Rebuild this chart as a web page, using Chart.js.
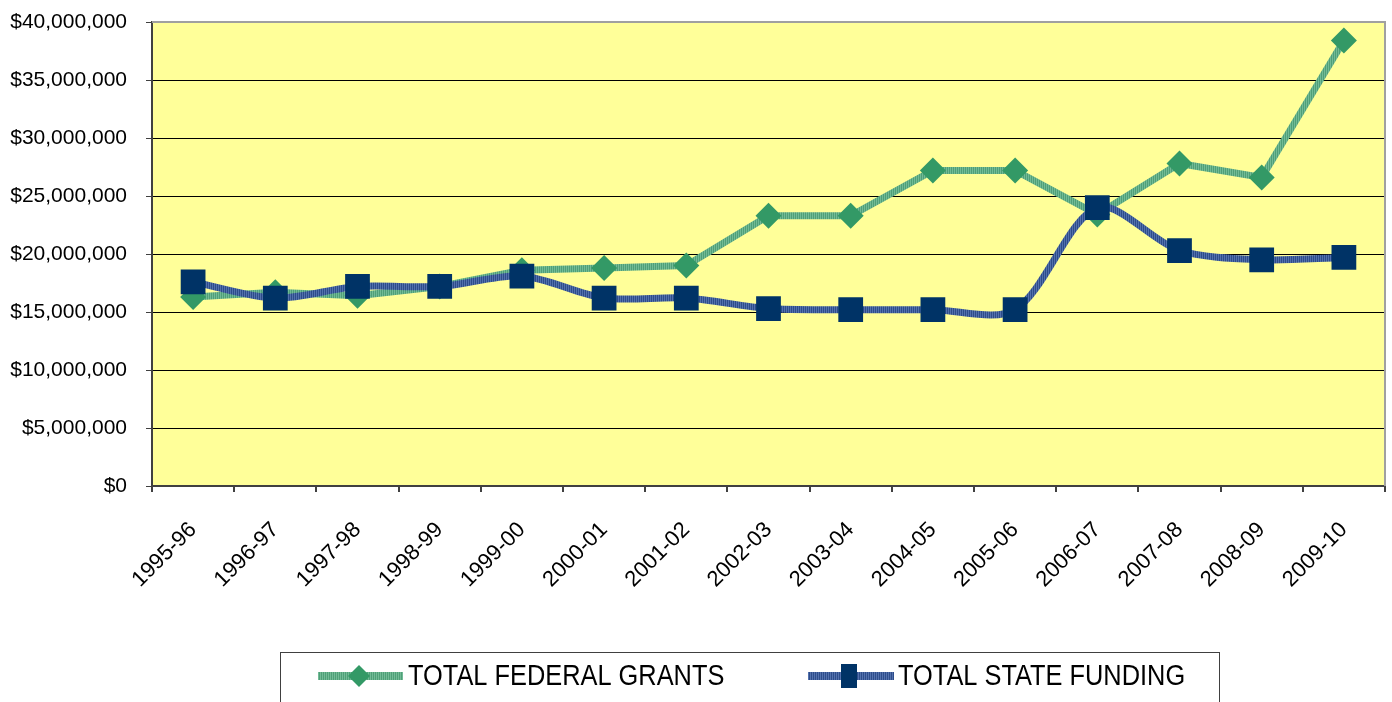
<!DOCTYPE html>
<html>
<head>
<meta charset="utf-8">
<script src="https://cdn.jsdelivr.net/npm/chart.js@4/dist/chart.umd.min.js"></script>
<style>
  html,body{margin:0;padding:0;background:#fff;}
  #wrap{width:1392px;height:702px;}
</style>
</head>
<body>
<div id="wrap"><canvas id="chart" width="1392" height="702"></canvas></div>
<script>
// Veriler
const years = ["1995-96","1996-97","1997-98","1998-99","1999-00","2000-01","2001-02","2002-03","2003-04","2004-05","2005-06","2006-07","2007-08","2008-09","2009-10"];
const federal = [16300000,16700000,16400000,17200000,18600000,18800000,19000000,23300000,23300000,27200000,27200000,23400000,27800000,26600000,38400000];
const state = [17600000,16200000,17200000,17200000,18100000,16200000,16200000,15300000,15200000,15200000,15200000,24000000,20300000,19500000,19700000];
const yTicks = [0,5000000,10000000,15000000,20000000,25000000,30000000,35000000,40000000];
const legendNames = ["TOTAL FEDERAL GRANTS","TOTAL STATE FUNDING"];

const FONT = "'Liberation Sans', Arial, sans-serif";

// Cizgili desen (Excel gibi)
function stripes(c1,c2){
  const cv=document.createElement("canvas"); cv.width=2; cv.height=1;
  const x=cv.getContext("2d");
  x.fillStyle=c1; x.fillRect(0,0,1,1);
  x.fillStyle=c2; x.fillRect(1,0,1,1);
  return document.getElementById("chart").getContext("2d").createPattern(cv,"repeat");
}
const fedLine = stripes("#72bb96","#4f9f78");
const stLine = stripes("#5371ad","#2d4c8a");

function money(v){ return "$"+v.toLocaleString("en-US"); }

// Arka plan ve cerceve
const areaPlugin = {
  id:"area",
  beforeDraw(chart){
    const a=chart.chartArea, c=chart.ctx;
    c.save(); c.fillStyle="#ffff99"; c.fillRect(a.left,a.top,a.right-a.left,a.bottom-a.top); c.restore();
  },
  beforeDatasetsDraw(chart){
    const a=chart.chartArea, c=chart.ctx;
    c.save(); c.strokeStyle="#a0a0a0"; c.lineWidth=2;
    c.beginPath(); c.moveTo(a.left,a.top); c.lineTo(a.right,a.top); c.lineTo(a.right,a.bottom); c.stroke();
    c.restore();
  }
};

// Legend (elle cizim)
const legendPlugin = {
  id:"legendBox",
  afterDraw(chart){
    const c=chart.ctx;
    c.save();
    c.strokeStyle="#404040"; c.lineWidth=1;
    c.strokeRect(280.5,652.5,939,60);
    const cy=676;
    // federal
    c.fillStyle=fedLine; c.fillRect(318,cy-4,85,8);
    c.fillStyle="#339966";
    c.beginPath(); c.moveTo(359,cy-11); c.lineTo(370,cy); c.lineTo(359,cy+11); c.lineTo(348,cy); c.closePath(); c.fill();
    // state
    c.fillStyle=stLine; c.fillRect(808,cy-4,86,8);
    c.fillStyle="#003366"; c.fillRect(841,cy-12,16,24);
    // yazilar
    c.fillStyle="#000"; c.font="29px "+FONT; c.textBaseline="middle"; c.textAlign="left";
    [[408,legendNames[0]],[898,legendNames[1]]].forEach(([x,t])=>{
      c.save(); c.translate(x,cy+1); c.scale(0.875,1); c.fillText(t,0,0); c.restore();
    });
    c.restore();
  }
};

new Chart(document.getElementById("chart"),{
  type:"line",
  data:{labels:years,datasets:[
    {label:legendNames[0],data:federal,borderColor:fedLine,borderWidth:7,tension:0,
     pointStyle:"rectRot",pointRadius:13,pointHoverRadius:13,pointBackgroundColor:"#339966",pointBorderWidth:0,order:1},
    {label:legendNames[1],data:state,borderColor:stLine,borderWidth:7,tension:0.3,
     pointStyle:"rect",pointRadius:17.5,pointHoverRadius:17.5,pointBackgroundColor:"#003366",pointBorderWidth:0,order:0}
  ]},
  options:{
    responsive:false,animation:false,
    layout:{autoPadding:false,padding:{top:22,right:7,left:0,bottom:0}},
    plugins:{legend:{display:false},tooltip:{enabled:false}},
    scales:{
      x:{
        offset:true,
        grid:{offset:true,drawOnChartArea:false,drawTicks:true,tickLength:6,color:"#404040",lineWidth:2},
        border:{display:true,color:"#404040",width:2},
        ticks:{color:"#000",font:{family:FONT,size:22},minRotation:45,maxRotation:45,padding:25,autoSkip:false},
        afterFit(s){ s.height=216; s.paddingLeft=0; s.paddingRight=0; }
      },
      y:{
        min:0,max:40000000,
        afterBuildTicks(s){ s.ticks=yTicks.map(v=>({value:v})); },
        grid:{color:"#000",lineWidth:1,tickLength:6,tickColor:"#404040"},
        border:{display:true,color:"#404040",width:2},
        ticks:{color:"#000",font:{family:FONT,size:21},padding:19,callback:v=>money(v)},
        afterFit(s){ s.width=152; s.paddingTop=0; s.paddingBottom=0; }
      }
    }
  },
  plugins:[areaPlugin,legendPlugin]
});
</script>
</body>
</html>
